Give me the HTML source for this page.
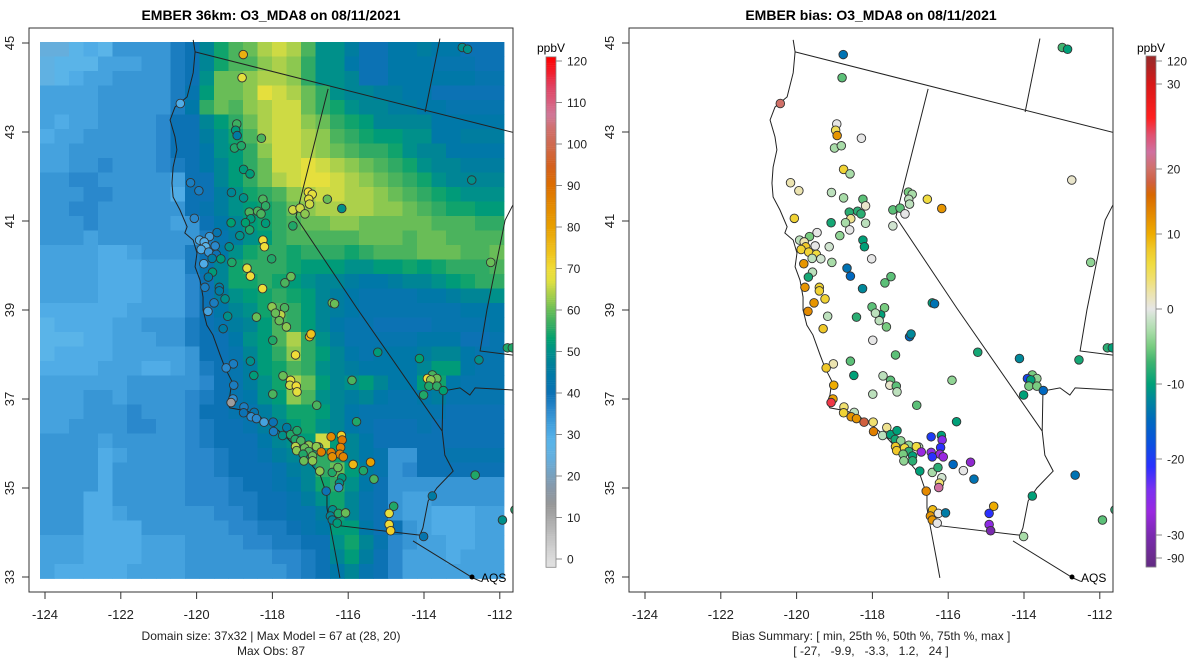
<!DOCTYPE html>
<html><head><meta charset="utf-8"><style>
html,body{margin:0;padding:0;background:#fff;}
svg{display:block;font-family:"Liberation Sans",Arial,sans-serif;}
</style></head><body>
<svg id="chart" width="1200" height="672" viewBox="0 0 1200 672" xmlns="http://www.w3.org/2000/svg">
<defs>
<clipPath id="clipL"><rect x="29" y="28" width="484" height="564"/></clipPath>
<clipPath id="clipR"><rect x="629" y="28" width="484" height="564"/></clipPath>
</defs>
<text x="271" y="20" text-anchor="middle" font-size="14" font-weight="bold">EMBER 36km: O3_MDA8 on 08/11/2021</text>
<text x="871" y="20" text-anchor="middle" font-size="14" font-weight="bold">EMBER bias: O3_MDA8 on 08/11/2021</text>
<g id="heat" clip-path="url(#clipL)"></g>
<g id="linesL" clip-path="url(#clipL)"></g>
<g id="linesR" clip-path="url(#clipR)"></g>
<g id="ptsL" clip-path="url(#clipL)"></g>
<g id="ptsR" clip-path="url(#clipR)"></g>
<rect x="29" y="28" width="484" height="564" fill="none" stroke="#333" stroke-width="1"/>
<rect x="629" y="28" width="484" height="564" fill="none" stroke="#333" stroke-width="1"/>
<g id="axes"></g>
<circle cx="472" cy="577" r="2.5" fill="#000"/>
<text x="481" y="582" font-size="12">AQS</text>
<circle cx="1072" cy="577" r="2.5" fill="#000"/>
<text x="1081" y="582" font-size="12">AQS</text>
<text x="271" y="640" text-anchor="middle" font-size="12" fill="#222">Domain size: 37x32 | Max Model = 67 at (28, 20)</text>
<text x="271" y="655" text-anchor="middle" font-size="12" fill="#222">Max Obs: 87</text>
<text x="871" y="640" text-anchor="middle" font-size="12" fill="#222">Bias Summary: [ min, 25th %, 50th %, 75th %, max ]</text>
<text x="871" y="655" text-anchor="middle" font-size="12" fill="#222" xml:space="preserve">[ -27,   -9.9,   -3.3,   1.2,   24 ]</text>
<g id="cbarL"></g>
<g id="cbarR"></g>
<text x="551" y="52" text-anchor="middle" font-size="12">ppbV</text>
<text x="1151" y="52" text-anchor="middle" font-size="12">ppbV</text>
</svg>
<script>
// ---- data ----
const gridRows = [
"ccefehhhhjkortuwxwtppnkkmmnmmkkk",
"deeeggghhjkorttvwvsppmkkmmmlllkk",
"defgghhhhjkpuuvwwvsppokkmmmmmmll",
"gggghhhhhjlquuvyxwuspoonnmmkkkkk",
"gggghhhhhjmsutvwxxusrpoonnmmllll",
"gfgghhhhikkoqsuwxxvusrqoooommmmm",
"fgghhhhhikknprtwxxwvtsrqqppmmnnn",
"gghhhhhhikkmpqsvxxwvutssrpoommmm",
"gghhihhhijkmoqsuxxyxwvutsrpoonnn",
"hhiihhhhhgkkoqsuwxyyxwvutsrpoooo",
"hhhiihhhhfkknprstvwxxwwvutsrqppp",
"hhiihhhhhhklnpqrsuvwwwwvvutsrrqq",
"hhhihhhhhghkmoqrstuuvvuuuuutttss",
"hhhghhhhhhhjlnpqstttttuuutuutttt",
"ggggffghhhjkmprssrsssrstttuuuttu",
"ggggfffgggjlorsssrqqqppqqrqrssst",
"ggggfffgggikorrsrqpoonmmnoopqrss",
"ggggfffgggiknpqrsrqonmllllmmnoop",
"ffffffggggikmoprtsqonmlllllllmmm",
"effffgghhhjklnoqtsqomllkkkkllllm",
"eeeffggghhjkkmpqtwspnlllllmmmkkl",
"effffggggghkkloqsvsqomlmmmnoomll",
"ffffgggffghjklnqrtsponmmmmoqqmll",
"gggggghhhhhiklnprwuqopqommqrmlll",
"ggghhghhhhijklmpqvtponomllmnllll",
"ggghhhihhhikkllnprrqomllllllkkkk",
"gghhhhiihhijkklnoqrpomlkkklkkkkk",
"hhhhghhhhhijkkkmopqxqomkkkkkkkkk",
"hhhhfghhhhiijkklnoqsromlhhkkllll",
"hhhhfhhhhhiijkkklnosuqnlhikkkkkk",
"hhhhfhhhhhiiijkklmorspmkhhhhhhhh",
"hhhffhhhhhiiijjkklnprolkhgghhhhh",
"hhhffghhhhhhiijkkllnrolkhggfffgg",
"hhhffffhhhhhhiijjklmqqmkkhgfffgg",
"gggffffggghhhhiijjkkprolihggffgg",
"gggffffggghhhhhhiijkoqnkigggfggg",
"gfffffgggghhhhhhhijkmolkiggggggg"
];
const stLon = [-118.77,-112.99,-112.85,-118.80,-120.43,-118.94,-118.97,-118.93,-118.29,-119.00,-118.82,-118.76,-118.59,-112.74,-120.16,-119.94,-119.08,-118.76,-118.25,-118.18,-118.61,-118.39,-118.30,-118.57,-118.18,-120.06,-119.09,-118.71,-118.60,-117.05,-116.95,-117.04,-117.02,-116.55,-116.17,-117.46,-117.27,-117.14,-117.46,-112.24,
-119.46,-119.66,-119.92,-119.80,-119.76,-119.51,-119.88,-119.68,-119.48,-119.59,-119.36,-119.14,-118.86,-119.07,-119.81,-118.25,-118.21,-118.02,-118.67,-118.58,-119.58,-119.69,-117.51,-117.67,-118.26,-119.78,-119.40,-119.40,-119.25,-119.54,-116.42,-116.36,-118.01,-117.68,
-119.70,-119.18,-118.42,-117.78,-117.82,-117.63,-117.92,-119.30,-117.02,-116.98,-117.99,-117.39,-115.22,-114.12,-112.55,-111.80,-111.67,-119.03,-119.22,-118.58,-118.49,-117.72,-117.52,-117.54,-117.37,-117.35,-115.90,-117.99,-116.83,
-113.78,-113.91,-113.66,-113.82,-113.87,-113.66,-113.49,-114.01,-119.02,-119.04,-119.09,-118.75,-118.76,-118.48,-118.56,-118.42,-118.22,-117.98,-117.97,-117.62,-117.73,-117.52,-117.35,-117.40,-117.25,-117.04,-116.78,
-117.39,-117.36,-117.15,-116.84,-117.04,-117.19,-116.94,-117.17,-116.94,-116.71,-116.45,-116.18,-116.16,-116.20,-116.45,-116.22,-116.42,-116.13,-115.87,-115.41,-115.60,-116.75,-116.42,-116.27,-116.17,-116.23,-116.25,-115.32,-115.78,
-112.65,-113.78,-116.58,-116.41,-116.47,-116.42,-116.26,-116.29,-116.07,-114.80,-114.92,-114.92,-114.88,-114.01,-111.93,-111.60];
const stLat = [44.74,44.90,44.86,44.22,43.64,43.18,43.04,42.92,42.86,42.64,42.69,42.16,42.06,41.92,41.86,41.68,41.64,41.52,41.49,41.34,41.20,41.22,41.16,41.05,40.95,41.06,40.96,40.96,40.80,41.65,41.60,41.49,41.38,41.49,41.28,41.25,41.29,41.16,40.89,40.07,
40.74,40.65,40.57,40.53,40.42,40.44,40.36,40.30,40.25,40.16,40.15,40.42,40.67,40.07,40.04,40.57,40.42,40.15,39.94,39.76,39.85,39.74,39.75,39.61,39.48,39.51,39.51,39.43,39.25,39.16,39.16,39.14,39.07,39.05,
38.97,38.86,38.84,38.89,38.76,38.62,38.93,38.58,38.40,38.46,38.32,37.99,38.05,37.91,37.88,38.15,38.15,37.79,37.70,37.85,37.53,37.52,37.42,37.31,37.29,37.16,37.42,37.11,36.86,
37.54,37.46,37.46,37.43,37.29,37.29,37.19,37.09,37.31,37.00,36.92,36.82,36.69,36.70,36.60,36.56,36.48,36.48,36.27,36.36,36.18,36.20,36.29,36.09,36.06,35.96,35.92,
35.93,35.84,35.90,35.93,35.82,35.76,35.72,35.61,35.61,35.81,36.15,36.18,36.08,35.91,35.80,35.76,35.70,35.70,35.53,35.58,35.39,35.38,35.35,35.46,35.23,35.11,35.01,35.20,36.49,
35.29,34.82,34.93,34.51,34.37,34.28,34.43,34.21,34.44,34.59,34.43,34.18,34.04,33.91,34.28,34.51];
const stObs = [77,50,50,68,30,57,52,45,58,55,55,52,52,50,38,38,48,50,58,56,58,58,58,52,52,36,53,53,55,70,68,68,66,60,50,66,66,62,55,60,
42,33,30,30,28,36,30,34,40,45,52,50,50,55,30,70,70,55,68,70,52,45,60,58,70,38,45,45,50,38,60,60,62,58,
32,50,60,65,60,62,60,45,76,74,55,70,52,53,50,55,55,38,36,50,52,60,68,66,70,68,58,58,58,
58,70,60,62,55,56,53,55,38,35,12,38,40,42,35,36,32,40,38,45,50,55,55,55,58,62,58,
65,62,60,62,58,55,60,60,62,87,85,72,88,86,87,86,84,86,76,80,55,62,55,60,52,50,35,58,55,
55,45,40,50,48,48,55,52,60,55,68,70,72,42,50,55];
const stBias = [-14,-7,-10,-6,20,0,5,12,0,-3,-3,7,-3,1,2,2,-2,-3,-6,1,-8,-8,-8,3,-2,7,-9,-3,0,-5,-3,-2,-2,6,12,-6,-6,0,-1,-4,
0,-5,-2,2,8,0,7,7,6,-2,-1,-1,-4,-3,12,-10,-10,0,-14,-15,-2,-9,-6,-6,-12,12,7,7,7,12,-10,-14,-6,-5,
13,-2,-8,-10,-2,-5,-2,8,-15,-12,0,-6,-9,-12,-9,-8,-10,2,8,-6,-10,-2,-6,1,-6,-2,-4,-2,-6,
-5,-19,-4,-10,-5,-5,-15,-10,10,11,25,4,7,-2,12,12,18,4,14,3,-2,-10,-10,-9,-4,-4,-2,
8,8,6,6,-8,-5,-10,-4,-8,-27,-20,-10,-25,-21,-26,-27,-21,-27,-15,-28,0,-10,-3,-8,-1,4,22,-14,-10,
-14,-10,13,9,12,12,0,0,-13,10,-21,-26,-33,-3,-6,-8];
const coastLon = [-120.09,-120.04,-120.09,-120.25,-120.57,-120.70,-120.57,-120.52,-120.62,-120.65,-120.62,-120.44,-120.25,-120.31,-120.09,-119.99,-120.04,-119.91,-119.83,-119.83,-119.73,-119.57,-119.38,-119.25,-119.07,-119.12,-119.20,-119.12,-118.67,-118.14,-117.61,-117.19,-116.74,-116.56,-116.56,-116.48,-116.40,-116.30,-116.22];
const coastLat = [45.07,44.80,44.33,43.79,43.56,43.27,42.89,42.60,42.21,41.85,41.54,41.25,40.87,40.73,40.57,40.28,39.97,39.67,39.29,39.00,38.66,38.44,37.99,37.70,37.40,37.09,36.91,36.80,36.73,36.51,36.12,35.74,35.29,34.84,34.55,34.17,33.81,33.36,32.98];
const borders = [
 [[-120.04,44.80],[-111.60,42.98]],
 [[-113.58,45.10],[-113.97,43.45]],
 [[-116.53,43.97],[-117.38,41.09],[-115.77,39.04],[-113.52,36.28],[-113.45,35.74],[-113.23,35.38],[-113.66,35.00],[-113.89,34.71],[-114.03,34.10],[-114.11,33.94]],
 [[-116.40,34.17],[-114.11,33.94]],
 [[-114.29,33.81],[-112.71,32.98],[-112.5,32.9]],
 [[-111.60,41.45],[-111.86,41.02],[-112.34,39.00],[-112.52,38.08],[-111.60,37.98]],
 [[-113.52,36.28],[-113.50,37.18],[-113.05,37.25],[-112.79,37.09],[-112.65,37.25],[-111.60,37.20]]
];
const latTicks = [33,35,37,39,41,43,45];
const lonTicks = [-124,-122,-120,-118,-116,-114,-112];
const modelCbTicks = [0,10,20,30,40,50,60,70,80,90,100,110,120];
const biasCbTicks = [-90,-30,-20,-10,0,10,20,30,120];

// ---- scales ----
const NS="http://www.w3.org/2000/svg";
function xL(lon){return 45+(lon+124)*37.9;}
function xR(lon){return 645+(lon+124)*37.9;}
function yM(lat){return 43+(45-lat)*44.5;}
function cellX(c){return 40+c*14.5;}
function cellY(r){return 42+r*14.5;}
function letterVal(ch){return 20+(ch.charCodeAt(0)-97)*2;}
function mk(tag,attrs,parent){const e=document.createElementNS(NS,tag);for(const k in attrs)e.setAttribute(k,attrs[k]);parent.appendChild(e);return e;}
function hex(h){return [parseInt(h.substr(1,2),16),parseInt(h.substr(3,2),16),parseInt(h.substr(5,2),16)];}
function ramp(stops,v){
 if(v<=stops[0][0])return stops[0][1];
 for(let i=1;i<stops.length;i++){if(v<=stops[i][0]){const a=stops[i-1],b=stops[i];const t=(v-a[0])/(b[0]-a[0]);const A=hex(a[1]),B=hex(b[1]);return 'rgb('+A.map((x,j)=>Math.round(x+(B[j]-x)*t)).join(',')+')';}}
 return stops[stops.length-1][1];
}
const modelStops=[[-5,'#e8e8e8'],[0,'#dcdcdc'],[5,'#c4c4c4'],[10,'#a8a8a8'],[13,'#989898'],[17,'#8898a8'],[20,'#7aa0bc'],[24,'#66aedc'],[28,'#5ab4e8'],[30,'#50ace6'],[33,'#3f9dda'],[36,'#2a88cc'],[40,'#0c72b4'],[44,'#0078a8'],[47,'#00809a'],[50,'#00908a'],[53,'#00a070'],[56,'#30aa64'],[59,'#58b85a'],[62,'#8cc850'],[65,'#bcd448'],[67,'#e0e040'],[70,'#f0dc38'],[73,'#f0c820'],[77,'#ecb010'],[80,'#e8a000'],[85,'#e48a00'],[90,'#dc6e00'],[95,'#d46020'],[100,'#cf6a50'],[104,'#d07070'],[107,'#d07898'],[110,'#d86080'],[114,'#e04060'],[117,'#f02030'],[121,'#ff0000']];
const biasStops=[[-95,'#5a2a7a'],[-90,'#6a2c8c'],[-30,'#7a2ab0'],[-27,'#9a28e0'],[-24,'#7a30f0'],[-21,'#2a30ff'],[-18,'#0a50e0'],[-15,'#0068c0'],[-12,'#00889a'],[-10,'#00a078'],[-7,'#40b470'],[-5,'#78cc80'],[-3,'#a8dca8'],[-1,'#d0e4d0'],[0,'#e6e6e6'],[2,'#ece4b0'],[4,'#f0e070'],[6,'#f0dc40'],[8,'#f0c828'],[10,'#eeac00'],[13,'#e48a00'],[16,'#d86800'],[18,'#d06040'],[20,'#d07068'],[22,'#d070a0'],[24,'#e05070'],[26,'#ff2020'],[30,'#d81818'],[120,'#a02828'],[125,'#a02828']];
const biasPos=[[-95,576],[-90,558],[-30,535],[-20,459],[-10,384],[0,309],[10,234],[20,169],[30,84],[120,61],[125,56]];
function cbYModel(v){return 559-v*4.15;}
function cbYBias(v){for(let i=1;i<biasPos.length;i++){if(v<=biasPos[i][0]){const a=biasPos[i-1],b=biasPos[i];return a[1]+(v-a[0])/(b[0]-a[0])*(b[1]-a[1]);}}return 56;}
function biasAtY(y){for(let i=1;i<biasPos.length;i++){const a=biasPos[i-1],b=biasPos[i];if(y>=b[1]){return a[0]+(y-a[1])/(b[1]-a[1])*(b[0]-a[0]);}}return 125;}

// ---- heatmap ----
const heat=document.getElementById('heat');
gridRows.forEach((row,r)=>{for(let c=0;c<32;c++){
 const ch=row[Math.min(c,row.length-1)];
 const rc=mk('rect',{x:cellX(c),y:cellY(r),width:14.9,height:14.9,fill:ramp(modelStops,letterVal(ch))},heat);
 
 
}});

// ---- map lines ----
function drawLines(g,xf){
 const cp=mk('polyline',{points:coastLon.map((lo,i)=>xf(lo)+','+yM(coastLat[i])).join(' '),fill:'none',stroke:'#222','stroke-width':1},g);
 
 
 borders.forEach(b=>{
  const p=mk('polyline',{points:b.map(q=>xf(q[0])+','+yM(q[1])).join(' '),fill:'none',stroke:'#222','stroke-width':1},g);
  
  
 });
}
drawLines(document.getElementById('linesL'),xL);
drawLines(document.getElementById('linesR'),xR);

// ---- points ----
const pL=document.getElementById('ptsL'),pR=document.getElementById('ptsR');
stLon.forEach((lo,i)=>{
 const a=mk('circle',{cx:xL(lo),cy:yM(stLat[i]),r:4.3,fill:ramp(modelStops,stObs[i]),stroke:'#333','stroke-width':0.9},pL);
 
 
 const b=mk('circle',{cx:xR(lo),cy:yM(stLat[i]),r:4.3,fill:ramp(biasStops,stBias[i]),stroke:'#333','stroke-width':0.9},pR);
 
 
});

// ---- axes ----
const ax=document.getElementById('axes');
[[29,xL],[629,xR]].forEach(([x0,xf])=>{
 lonTicks.forEach(t=>{
  const x=xf(t);
  const l=mk('line',{x1:x,y1:592,x2:x,y2:599,stroke:'#333'},ax);
  
  
  const tx=mk('text',{x:x,y:619,'text-anchor':'middle','font-size':13,fill:'#222'},ax);tx.textContent=t;
  
  
 });
 latTicks.forEach(t=>{
  const y=yM(t);
  const l=mk('line',{x1:x0-7,y1:y,x2:x0,y2:y,stroke:'#333'},ax);
  
  
  const tx=mk('text',{x:0,y:0,'text-anchor':'middle','font-size':13,fill:'#222',transform:'translate('+(x0-15)+','+y+') rotate(-90)'},ax);tx.textContent=t;
  
  
 });
});

// ---- colorbars ----
const cL=document.getElementById('cbarL');
for(let v=-2;v<121;v+=0.5){
 const rc=mk('rect',{x:546,y:cbYModel(v+0.5),width:10,height:2.3,fill:ramp(modelStops,v+0.25)},cL);
 
 
}
mk('rect',{x:546,y:cbYModel(121),width:10,height:cbYModel(-2)-cbYModel(121),fill:'none',stroke:'#888','stroke-width':0.8},cL);
modelCbTicks.forEach(t=>{
 const y=cbYModel(t);
 mk('line',{x1:556,y1:y,x2:562,y2:y,stroke:'#888'},cL);
 const tx=mk('text',{x:567,y:y+4.5,'font-size':12,fill:'#222'},cL);tx.textContent=t;
 
 
});
const cR=document.getElementById('cbarR');
for(let y=56;y<567;y+=1){
 const rc=mk('rect',{x:1146,y:y,width:10,height:1.3,fill:ramp(biasStops,biasAtY(y+0.5))},cR);
 
 
}
mk('rect',{x:1146,y:56,width:10,height:511,fill:'none',stroke:'#888','stroke-width':0.8},cR);
biasCbTicks.forEach(t=>{
 const y=cbYBias(t);
 mk('line',{x1:1156,y1:y,x2:1162,y2:y,stroke:'#888'},cR);
 const tx=mk('text',{x:1167,y:y+4.5,'font-size':12,fill:'#222'},cR);tx.textContent=t;
 
 
});
</script>
</body></html>
